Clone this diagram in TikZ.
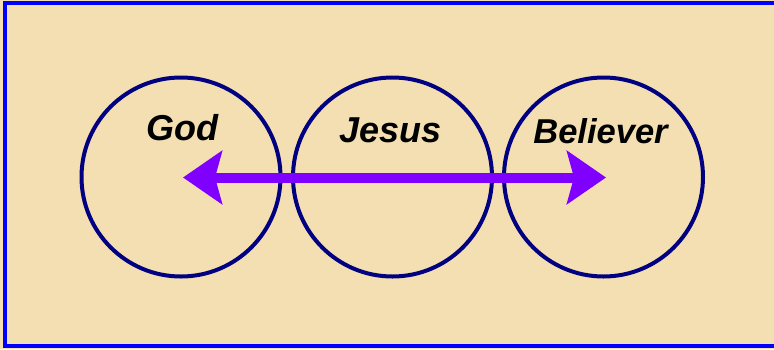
\documentclass[tikz,border=0pt]{standalone}
\usepackage{fontspec}
\setmainfont{Liberation Sans}
\usetikzlibrary{arrows.meta}
\definecolor{bgwheat}{HTML}{F4DFB2}
\definecolor{circnavy}{HTML}{000080}
\definecolor{arrowpurple}{HTML}{8000FF}
\definecolor{borderblue}{HTML}{0000FF}
\begin{document}
\begin{tikzpicture}[x=1pt,y=-1pt,
  ring/.style={circle, draw=circnavy, line width=4pt, minimum size=199pt, inner sep=0pt},
  label/.style={anchor=base, font=\bfseries\itshape, text=black},
  bigarrow/.style={arrowpurple, line width=10pt,
    {Stealth[length=39pt,width=53pt,inset=7pt]}-{Stealth[length=39pt,width=53pt,inset=7pt]}}]
  \useasboundingbox (0,0) rectangle (774,349);
  \fill[bgwheat] (0,0) rectangle (774,349);
  \begin{scope}
    \clip (0,0) rectangle (774,349);
    \draw[borderblue, line width=4.5pt] (5,3) rectangle (800,346);
  \end{scope}
  \node[ring] (god) at (181,177) {};
  \node[ring] (jesus) at (392.5,177) {};
  \node[ring] (believer) at (603.5,177) {};
  \coordinate (leftend) at (183,177.5);
  \coordinate (rightend) at (606,177.5);
  \draw[bigarrow] (leftend) -- (rightend);
  \node[label, font=\fontsize{36}{40}\selectfont\bfseries\itshape] (godtxt) at (182.5,140) {God};
  \node[label, font=\fontsize{36}{40}\selectfont\bfseries\itshape] (jesustxt) at (390.5,142) {Jesus};
  \node[label, font=\fontsize{34.5}{40}\selectfont\bfseries\itshape] (believertxt) at (600.5,143) {Believer};
\end{tikzpicture}
\end{document}
